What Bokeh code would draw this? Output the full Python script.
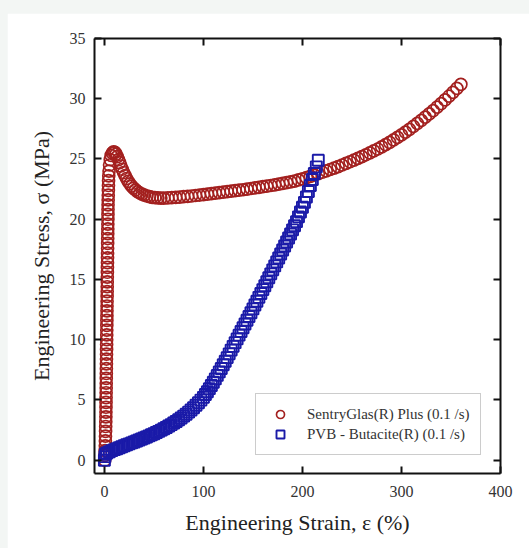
from bokeh.plotting import figure
from bokeh.models import (Range1d, FixedTicker, LinearAxis, CustomJSTickFormatter,
                          Legend, LegendItem, Spacer)
from bokeh.layouts import column, row
from bokeh.embed import file_html
from bokeh.resources import INLINE

# ---- data ----
sg_strain = [
    0.3, 0.5, 0.7, 0.9, 1.0, 1.1, 1.2, 1.3, 1.4, 1.5,
    1.55, 1.6, 1.65, 1.7, 1.75, 1.8, 1.85, 1.9, 1.95, 2.0,
    2.05, 2.1, 2.15, 2.2, 2.25, 2.3, 2.35, 2.4, 2.45, 2.5,
    2.55, 2.6, 2.65, 2.7, 2.75, 2.8, 2.85, 2.9, 2.95, 3.0,
    3.05, 3.1, 3.15, 3.2, 3.25, 3.3, 3.35, 3.4, 3.45, 3.5,
    3.55, 3.6, 3.65, 3.7, 3.8, 3.9, 4.0, 4.1, 4.2, 4.4, 4.7,
    5.2, 5.9, 6.8, 8.0, 9.3, 10.6, 11.8, 13.0, 14.2, 15.4,
    16.7, 18.0, 19.4, 20.9, 22.4, 24.0, 25.7, 27.5, 29.4, 31.4,
    33.5, 35.7, 38.0, 40.4, 42.9, 45.5, 48.2, 51.0, 54.0, 57.0,
    60, 64, 68, 72, 76, 80, 84, 88, 92, 96,
    100, 104, 108, 112, 116, 120, 124, 128, 132, 136,
    140, 144, 148, 152, 156, 160, 164, 168, 172, 176,
    180, 184, 188, 192, 196, 200, 204, 208, 212, 216,
    220, 224, 228, 232, 236, 240, 244, 248, 252, 256,
    260, 264, 268, 272, 276, 280, 284, 288, 292, 296,
    300, 304, 308, 312, 316, 320, 324, 328, 332, 336,
    340, 344, 348, 352, 356, 360,
]
sg_stress = [
    0.0, 0.4, 0.8, 1.2, 1.6, 2.0, 2.4, 2.8, 3.2, 3.6,
    4.0, 4.4, 4.8, 5.2, 5.6, 6.0, 6.4, 6.8, 7.2, 7.6,
    8.0, 8.4, 8.8, 9.2, 9.6, 10.0, 10.4, 10.8, 11.2, 11.6,
    12.0, 12.4, 12.8, 13.2, 13.6, 14.0, 14.4, 14.8, 15.2, 15.6,
    16.0, 16.4, 16.8, 17.2, 17.6, 18.0, 18.4, 18.8, 19.2, 19.6,
    20.0, 20.4, 20.8, 21.2, 21.6, 22.0, 22.4, 22.8, 23.2, 23.6, 24.0,
    24.5, 24.95, 25.3, 25.5, 25.6, 25.55, 25.4, 25.2, 24.95, 24.7,
    24.42, 24.15, 23.88, 23.62, 23.38, 23.15, 22.94, 22.75, 22.58, 22.43,
    22.3, 22.18, 22.08, 22.0, 21.93, 21.87, 21.82, 21.79, 21.77, 21.76,
    21.76, 21.77, 21.79, 21.81, 21.84, 21.87, 21.9, 21.93, 21.97, 22.01,
    22.05, 22.09, 22.13, 22.17, 22.21, 22.25, 22.29, 22.33, 22.37, 22.41,
    22.45, 22.5, 22.55, 22.6, 22.65, 22.7, 22.75, 22.8, 22.86, 22.92,
    22.98, 23.04, 23.1, 23.17, 23.26, 23.35, 23.45, 23.56, 23.67, 23.78,
    23.9, 24.01, 24.13, 24.25, 24.37, 24.5, 24.63, 24.77, 24.91, 25.05,
    25.2, 25.35, 25.51, 25.67, 25.83, 26.0, 26.19, 26.38, 26.58, 26.79,
    27.0, 27.23, 27.46, 27.7, 27.95, 28.2, 28.47, 28.74, 29.02, 29.31,
    29.6, 29.9, 30.21, 30.53, 30.86, 31.2,
]

pvb_strain = [
    0.0, 0.5, 1.0, 2.5, 5.0, 7.5, 10.0, 12.5, 15.0, 17.5,
    20.0, 22.5, 25.0, 27.5, 30.0, 32.5, 35.0, 37.5, 40.0, 42.5,
    45.0, 47.5, 50.0, 52.5, 55.0, 57.5, 60.0, 62.5, 65.0, 67.5,
    70.0, 72.5, 75.0, 77.5, 80.0, 82.5, 85.0, 87.5, 90.0, 92.5,
    95.0, 97.5, 100, 102, 104, 106, 108, 110, 112, 114,
    116, 118, 120, 122, 124, 126, 128, 130, 132, 134,
    136, 138, 140, 142, 144, 146, 148, 150, 152, 154,
    156, 158, 160, 162, 164, 166, 168, 170, 172, 174,
    176, 178, 180, 182, 184, 186, 188, 190, 192, 194,
    196, 198, 200, 202, 204, 206, 208, 210, 212, 214, 216,
]
pvb_stress = [
    0.0, 0.3, 0.5, 0.6, 0.7, 0.8, 0.88, 0.96, 1.04, 1.12,
    1.2, 1.28, 1.36, 1.44, 1.52, 1.6, 1.68, 1.76, 1.84, 1.93,
    2.02, 2.11, 2.2, 2.3, 2.4, 2.5, 2.61, 2.72, 2.84, 2.96,
    3.09, 3.22, 3.36, 3.51, 3.66, 3.82, 3.99, 4.17, 4.36, 4.56,
    4.77, 4.99, 5.22, 5.45, 5.69, 5.94, 6.2, 6.47, 6.75, 7.04,
    7.33, 7.62, 7.92, 8.22, 8.52, 8.83, 9.14, 9.45, 9.76, 10.07,
    10.38, 10.69, 11.0, 11.31, 11.62, 11.93, 12.24, 12.56, 12.88, 13.2,
    13.52, 13.84, 14.16, 14.48, 14.81, 15.14, 15.47, 15.8, 16.13, 16.46,
    16.79, 17.12, 17.45, 17.78, 18.11, 18.44, 18.78, 19.12, 19.46, 19.8,
    20.2, 20.6, 21.0, 21.4, 21.85, 22.3, 22.8, 23.3, 23.8, 24.35, 24.9,
]

x_ticks = [0, 100, 200, 300, 400]
y_ticks = [0, 5, 10, 15, 20, 25, 30, 35]
sg_label = "SentryGlas(R) Plus (0.1 /s)"
pvb_label = "PVB - Butacite(R) (0.1 /s)"
x_title = "Engineering Strain, \u03b5 (%)"
y_title = "Engineering Stress, \u03c3 (MPa)"

RED = "#a3201f"
BLUE = "#1a1aa8"
FONT = "Liberation Serif"

p = figure(width=522, height=535, output_backend="svg", toolbar_location=None,
           x_range=Range1d(-10, 400), y_range=Range1d(-1.1, 35),
           min_border_left=87, min_border_right=29, min_border_top=25, min_border_bottom=75,
           frame_width=406, frame_height=435)
p.background_fill_color = "white"
p.border_fill_color = "white"
p.outline_line_color = None
p.xgrid.visible = False
p.ygrid.visible = False

r1 = p.scatter(sg_strain, sg_stress, marker="circle", size=12, fill_color=None,
               line_color=RED, line_width=1.7)
r2 = p.scatter(pvb_strain, pvb_stress, marker="square", size=11, fill_color=None,
               line_color=BLUE, line_width=1.9)

top = LinearAxis()
right = LinearAxis()
p.add_layout(top, "above")
p.add_layout(right, "right")

for ax in p.xaxis:
    ax.ticker = FixedTicker(ticks=x_ticks)
for ax in p.yaxis:
    ax.ticker = FixedTicker(ticks=y_ticks)

for ax in list(p.xaxis) + list(p.yaxis):
    ax.axis_line_color = "#111111"
    ax.axis_line_width = 2
    ax.major_tick_in = 7
    ax.major_tick_out = 0
    ax.major_tick_line_color = "#111111"
    ax.major_tick_line_width = 2
    ax.minor_tick_line_color = None
    ax.major_label_text_font = FONT
    ax.major_label_text_font_size = "16px"
    ax.major_label_text_color = "#333333"
    ax.axis_label_text_font = FONT
    ax.axis_label_text_font_size = "22px"
    ax.axis_label_text_font_style = "normal"
    ax.axis_label_text_color = "#222222"

for ax in (top, right):
    ax.formatter = CustomJSTickFormatter(code="return ''")
    ax.major_label_standoff = 0

bottom = p.below[0]
left = p.left[0]
bottom.axis_label = x_title
left.axis_label = y_title
bottom.major_label_standoff = 12
left.major_label_standoff = 9
bottom.axis_label_standoff = 10
left.axis_label_standoff = 13

legend = Legend(items=[LegendItem(label=sg_label, renderers=[r1]),
                       LegendItem(label=pvb_label, renderers=[r2])],
                location=(161, 18))
legend.label_text_font = FONT
legend.label_text_font_size = "15px"
legend.label_text_color = "#333333"
legend.border_line_color = "#999999"
legend.border_line_width = 1
legend.background_fill_color = "white"
legend.background_fill_alpha = 1.0
legend.padding = 10
legend.margin = 0
legend.spacing = 0
legend.glyph_width = 28
legend.glyph_height = 20
legend.label_height = 20
legend.label_standoff = 13
p.add_layout(legend, "center")

layout = column(Spacer(height=13, width=10), row(Spacer(width=7, height=10), p))

html = file_html(layout, INLINE)
html = html.replace("</head>", "<style>html, body { background: #f3f6f4; }</style></head>", 1)
open("out.html", "w").write(html)
